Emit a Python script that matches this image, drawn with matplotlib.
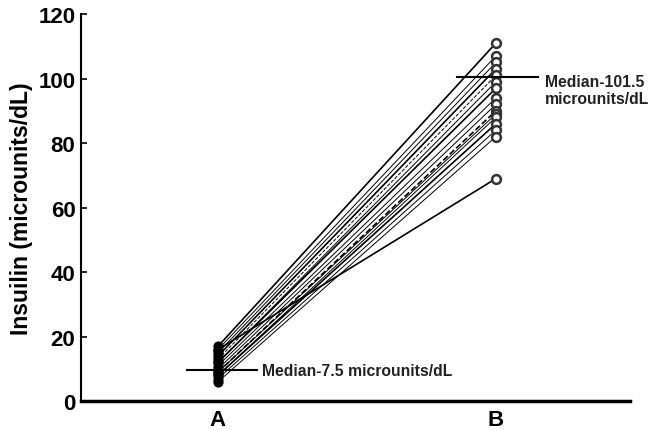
import matplotlib
matplotlib.use("Agg")
import matplotlib.pyplot as plt

plt.rcParams['font.family'] = ['Liberation Sans', 'DejaVu Sans']

groups = ["A", "B"]
insulin_a = [17, 16, 15, 14, 13, 12, 12, 11, 10, 9, 9, 8, 8, 7, 6, 16]
insulin_b = [111, 107, 105, 103, 101, 99, 97, 94, 92, 90, 89, 88, 86, 84, 82, 69]
median_a = 9.5
median_b = 100.5
median_a_label = "Median-7.5 microunits/dL"
median_b_label = "Median-101.5\nmicrounits/dL"
yticks = [0, 20, 40, 60, 80, 100, 120]

fig = plt.figure(figsize=(6.5, 4.31), dpi=100)
ax = fig.add_axes([0.1246, 0.067, 0.8444, 0.898])

for i, (a, b) in enumerate(zip(insulin_a, insulin_b)):
    ls = '--' if i in (4, 9) else '-'
    lw = 1.2 if i % 3 == 0 else 0.7
    ax.plot([0, 1], [a, b], color='black', lw=lw, ls=ls, zorder=2)

ax.scatter([0] * len(insulin_a), insulin_a, s=40, color='black', zorder=3)
ax.scatter([1] * len(insulin_b), insulin_b, s=40, facecolor='white',
           edgecolor='#333333', linewidths=1.8, zorder=3)

ax.plot([-0.11, 0.14], [median_a, median_a], color='black', lw=1.5, zorder=4)
ax.plot([0.86, 1.15], [median_b, median_b], color='black', lw=1.5, zorder=4)
ax.text(0.16, median_a, median_a_label, fontsize=11.3, fontweight='bold',
        va='center', ha='left', color='#222222')
ax.text(1.175, median_b - 4.0, median_b_label, fontsize=11.3, fontweight='bold',
        va='center', ha='left', linespacing=1.2, color='#222222')

ax.set_xlim(-0.493, 1.482)
ax.set_ylim(0, 120)
ax.set_xticks([0, 1])
ax.set_xticklabels(groups, fontsize=16, fontweight='bold')
ax.tick_params(axis='x', length=0, pad=6)
ax.set_yticks(yticks)
ax.set_yticklabels([str(t) for t in yticks], fontsize=16, fontweight='bold')
ax.tick_params(axis='y', direction='in', length=4, width=1.2, pad=4)
ax.set_ylabel("Insuilin (microunits/dL)", fontsize=16.5, fontweight='bold', labelpad=4)

ax.spines['top'].set_visible(False)
ax.spines['right'].set_visible(False)
ax.spines['left'].set_linewidth(1.5)
ax.spines['bottom'].set_linewidth(2.5)

fig.savefig("out.png", dpi=100)
